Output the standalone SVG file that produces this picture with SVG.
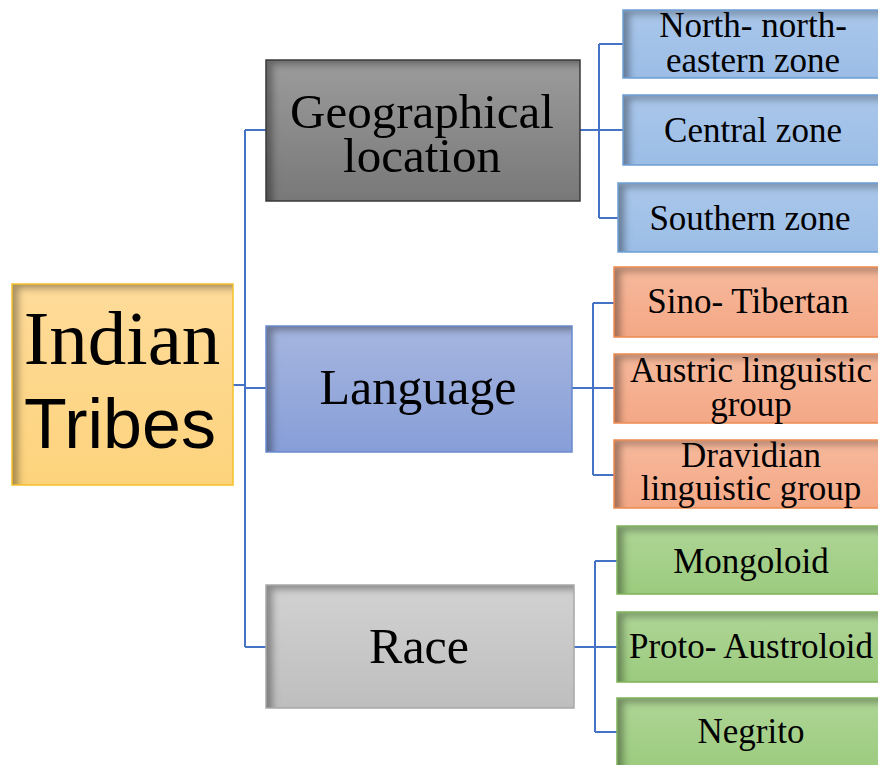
<svg xmlns="http://www.w3.org/2000/svg" width="878" height="765" viewBox="0 0 878 765">
<defs>
  <filter id="inset" x="-10%" y="-10%" width="120%" height="120%">
    <feComponentTransfer in="SourceAlpha" result="inv"><feFuncA type="table" tableValues="1 0"/></feComponentTransfer>
    <feOffset in="inv" dx="7" dy="5" result="off"/>
    <feGaussianBlur in="off" stdDeviation="3.5" result="blur"/>
    <feFlood flood-color="#000" flood-opacity="0.6"/>
    <feComposite operator="in" in2="blur" result="sh"/>
    <feComposite operator="in" in="sh" in2="SourceAlpha" result="shin"/>
    <feMerge><feMergeNode in="SourceGraphic"/><feMergeNode in="shin"/></feMerge>
  </filter>
  <linearGradient id="gRoot" x1="0" y1="0" x2="0" y2="1"><stop offset="0" stop-color="#FEDB9A"/><stop offset="1" stop-color="#FDD37C"/></linearGradient>
  <linearGradient id="gGeo" x1="0" y1="0" x2="0" y2="1"><stop offset="0" stop-color="#9C9C9C"/><stop offset="1" stop-color="#787878"/></linearGradient>
  <linearGradient id="gLang" x1="0" y1="0" x2="0" y2="1"><stop offset="0" stop-color="#A6B6E0"/><stop offset="1" stop-color="#879ED7"/></linearGradient>
  <linearGradient id="gRace" x1="0" y1="0" x2="0" y2="1"><stop offset="0" stop-color="#D2D2D2"/><stop offset="1" stop-color="#BEBEBE"/></linearGradient>
  <linearGradient id="gBlue" x1="0" y1="0" x2="0" y2="1"><stop offset="0" stop-color="#AAC7EA"/><stop offset="1" stop-color="#9BBDE6"/></linearGradient>
  <linearGradient id="gOr" x1="0" y1="0" x2="0" y2="1"><stop offset="0" stop-color="#F6B99C"/><stop offset="1" stop-color="#F4A886"/></linearGradient>
  <linearGradient id="gGr" x1="0" y1="0" x2="0" y2="1"><stop offset="0" stop-color="#AED596"/><stop offset="1" stop-color="#9CCB7E"/></linearGradient>
</defs>
<style>
  .t { font-family: "Liberation Serif", "Times New Roman", serif; fill: #000; text-anchor: middle; }
  .big { font-size: 50px; }
  .sm { font-size: 35px; }
  .conn { fill: none; stroke: #4472C4; stroke-width: 2; }
</style>
<rect width="878" height="765" fill="#fff"/>

<g id="connectors">
  <path class="conn" d="M233 385 H245 M245 130 V647 M245 130 H266 M245 388 H266 M245 647 H266"/>
  <path class="conn" d="M580 130 H599 M599 44 V218 M599 44 H623 M599 130 H623 M599 218 H618"/>
  <path class="conn" d="M572 388 H593 M593 303 V475 M593 303 H614 M593 388 H614 M593 475 H614"/>
  <path class="conn" d="M574 647 H595 M595 561 V732 M595 561 H617 M595 647 H617 M595 732 H617"/>
</g>

<g id="root">
  <rect x="12" y="284" width="221" height="201" fill="url(#gRoot)" filter="url(#inset)"/>
  <rect x="12" y="284" width="221" height="201" fill="none" stroke="#F5C12A" stroke-width="1.5"/>
  <text class="t" x="122" y="364" font-size="77">Indian</text>
  <text x="120" y="448" font-family="Liberation Sans, Arial, sans-serif" font-size="70" text-anchor="middle" fill="#000">Tribes</text>
</g>

<g id="geo">
  <rect x="266" y="60" width="314" height="141" fill="url(#gGeo)" filter="url(#inset)"/>
  <rect x="266" y="60" width="314" height="141" fill="none" stroke="#3A3A3A" stroke-width="1.5"/>
  <text class="t" x="422" y="128" font-size="49">Geographical</text>
  <text class="t" x="422" y="172" font-size="49">location</text>
</g>

<g id="language">
  <rect x="266" y="326" width="306" height="126" fill="url(#gLang)" filter="url(#inset)"/>
  <rect x="266" y="326" width="306" height="126" fill="none" stroke="#6A8AD0" stroke-width="1.5"/>
  <text class="t big" x="418" y="404">Language</text>
</g>

<g id="race">
  <rect x="266" y="585" width="308" height="123" fill="url(#gRace)" filter="url(#inset)"/>
  <rect x="266" y="585" width="308" height="123" fill="none" stroke="#A8A8A8" stroke-width="1.5"/>
  <text class="t big" x="419" y="663">Race</text>
</g>

<g id="north">
  <rect x="623" y="10" width="262" height="68" fill="url(#gBlue)" filter="url(#inset)"/>
  <rect x="623" y="10" width="262" height="68" fill="none" stroke="#6C9FD6" stroke-width="1.5"/>
  <text class="t sm" x="753" y="37">North- north-</text>
  <text class="t sm" x="753" y="72">eastern zone</text>
</g>
<g id="central">
  <rect x="623" y="95" width="262" height="70" fill="url(#gBlue)" filter="url(#inset)"/>
  <rect x="623" y="95" width="262" height="70" fill="none" stroke="#6C9FD6" stroke-width="1.5"/>
  <text class="t sm" x="753" y="142">Central zone</text>
</g>
<g id="southern">
  <rect x="618" y="183" width="267" height="69" fill="url(#gBlue)" filter="url(#inset)"/>
  <rect x="618" y="183" width="267" height="69" fill="none" stroke="#6C9FD6" stroke-width="1.5"/>
  <text class="t sm" x="750" y="230">Southern zone</text>
</g>

<g id="sino">
  <rect x="614" y="267" width="271" height="70" fill="url(#gOr)" filter="url(#inset)"/>
  <rect x="614" y="267" width="271" height="70" fill="none" stroke="#EE8A50" stroke-width="1.5"/>
  <text class="t sm" x="748" y="313">Sino- Tibertan</text>
</g>
<g id="austric">
  <rect x="614" y="354" width="271" height="69" fill="url(#gOr)" filter="url(#inset)"/>
  <rect x="614" y="354" width="271" height="69" fill="none" stroke="#EE8A50" stroke-width="1.5"/>
  <text class="t sm" x="751" y="382">Austric linguistic</text>
  <text class="t sm" x="751" y="416">group</text>
</g>
<g id="dravidian">
  <rect x="614" y="440" width="271" height="68" fill="url(#gOr)" filter="url(#inset)"/>
  <rect x="614" y="440" width="271" height="68" fill="none" stroke="#EE8A50" stroke-width="1.5"/>
  <text class="t sm" x="751" y="467">Dravidian</text>
  <text class="t sm" x="751" y="500">linguistic group</text>
</g>

<g id="mongoloid">
  <rect x="617" y="526" width="268" height="68" fill="url(#gGr)" filter="url(#inset)"/>
  <rect x="617" y="526" width="268" height="68" fill="none" stroke="#7DB35A" stroke-width="1.5"/>
  <text class="t sm" x="751" y="573">Mongoloid</text>
</g>
<g id="proto">
  <rect x="617" y="612" width="268" height="70" fill="url(#gGr)" filter="url(#inset)"/>
  <rect x="617" y="612" width="268" height="70" fill="none" stroke="#7DB35A" stroke-width="1.5"/>
  <text class="t sm" x="751" y="658">Proto- Austroloid</text>
</g>
<g id="negrito">
  <rect x="617" y="698" width="268" height="72" fill="url(#gGr)" filter="url(#inset)"/>
  <rect x="617" y="698" width="268" height="72" fill="none" stroke="#7DB35A" stroke-width="1.5"/>
  <text class="t sm" x="751" y="743">Negrito</text>
</g>
</svg>
